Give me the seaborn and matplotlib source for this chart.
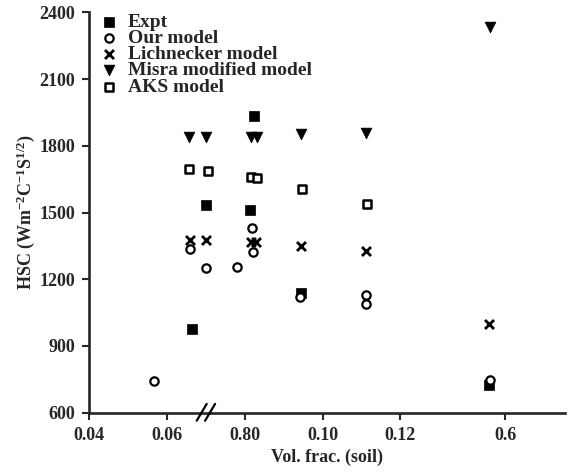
import matplotlib
matplotlib.use("Agg")
import matplotlib.pyplot as plt
import seaborn as sns
import pandas as pd

# x positions on the (broken) axis, in tick units; labels below are as printed
tick_pos = [0.04, 0.06, 0.08, 0.10, 0.12, 0.1469]
tick_labels = ["0.04", "0.06", "0.80", "0.10", "0.12", "0.6"]
y_ticks = [600, 900, 1200, 1500, 1800, 2100, 2400]

expt_x = [0.0664, 0.0699, 0.0814, 0.0823, 0.0943, 0.1427]
expt_y = [976, 1534, 1511, 1935, 1137, 725]

our_x = [0.0567, 0.0658, 0.0700, 0.0781, 0.0818, 0.0822, 0.0942, 0.1112, 0.1112, 0.1430]
our_y = [743, 1336, 1249, 1256, 1432, 1324, 1119, 1128, 1090, 747]

lich_x = [0.0658, 0.0700, 0.0815, 0.0828, 0.0943, 0.1111, 0.1428]
lich_y = [1376, 1376, 1369, 1369, 1351, 1328, 999]

misra_x = [0.0657, 0.0700, 0.0816, 0.0830, 0.0943, 0.1112, 0.1430]
misra_y = [1838, 1838, 1840, 1840, 1853, 1856, 2333]

aks_x = [0.0657, 0.0704, 0.0815, 0.0832, 0.0948, 0.1115]
aks_y = [1696, 1687, 1661, 1656, 1606, 1538]

sns.set_style("ticks")
plt.rcParams["font.family"] = ["Liberation Serif", "DejaVu Serif"]
plt.rcParams["font.weight"] = "bold"
plt.rcParams["axes.labelweight"] = "bold"
plt.rcParams["mathtext.fontset"] = "custom"
plt.rcParams["mathtext.rm"] = "Liberation Serif:bold"
plt.rcParams["mathtext.it"] = "Liberation Serif:bold"
plt.rcParams["mathtext.default"] = "regular"

fig = plt.figure(figsize=(5.76, 4.74), dpi=100)
ax = fig.add_axes([0.155, 0.1293, 0.826, 0.8447])

series = [
    ("Expt", expt_x, expt_y, dict(marker="s", s=50, color="black", edgecolor="black", linewidth=0.5)),
    ("Our model", our_x, our_y, dict(marker="o", s=36, facecolor="white", edgecolor="black", linewidth=1.6)),
    ("Lichnecker model", lich_x, lich_y, dict(marker="x", s=42, color="black", linewidth=2.0)),
    ("Misra modified model", misra_x, misra_y, dict(marker="v", s=60, color="black", edgecolor="black", linewidth=0.5)),
    ("AKS model", aks_x, aks_y, dict(marker="s", s=36, facecolor="white", edgecolor="black", linewidth=1.8)),
]
for name, xs, ys, kw in series:
    df = pd.DataFrame({"x": xs, "y": ys})
    sns.scatterplot(data=df, x="x", y="y", ax=ax, label=name, zorder=3, **kw)

ax.set_xlim(0.04, 0.1623)
ax.set_ylim(600, 2400)
ax.set_xticks(tick_pos)
ax.set_xticklabels(tick_labels)
ax.set_yticks(y_ticks)
ax.tick_params(direction="out", length=5, width=1.5, labelsize=13, pad=5)
for sp in ["top", "right"]:
    ax.spines[sp].set_visible(False)
for sp in ["left", "bottom"]:
    ax.spines[sp].set_linewidth(1.9)

ax.set_xlabel("Vol. frac. (soil)", fontsize=13, labelpad=4)
ax.set_ylabel(r"HSC (Wm$^{-2}$C$^{-1}$S$^{1/2}$)", fontsize=13, labelpad=2)

# axis break mark
for x0 in (0.2258, 0.2434):
    ax.plot([x0, x0 + 0.021], [-0.02, 0.022], transform=ax.transAxes,
            color="black", linewidth=1.6, clip_on=False, zorder=5)

leg = ax.legend(loc="upper left", bbox_to_anchor=(0.02, 0.998), frameon=False,
                fontsize=14, labelspacing=-0.07, handlelength=1.0, handletextpad=0.5,
                borderpad=0, borderaxespad=0)

fig.savefig("out.png", dpi=100)
